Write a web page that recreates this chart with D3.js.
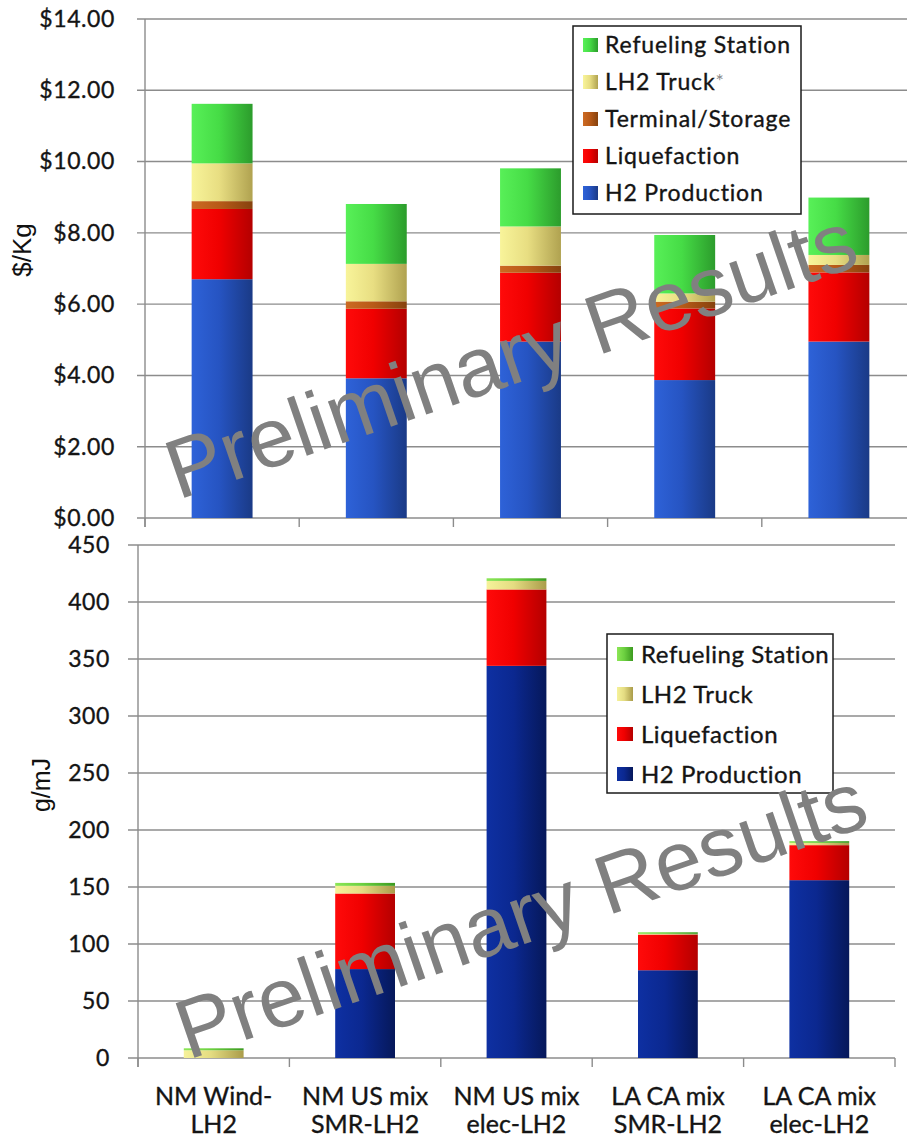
<!DOCTYPE html>
<html>
<head>
<meta charset="utf-8">
<script src="https://cdn.jsdelivr.net/npm/d3@7"></script>
<style>
  body { margin: 0; background: #fff; }
  svg { display: block; }
</style>
</head>
<body>
<svg id="chart" width="907" height="1139"></svg>
<script>
// Pathway labels (two lines each)
const categories = [
  ["NM Wind-", "LH2"],
  ["NM US mix", "SMR-LH2"],
  ["NM US mix", "elec-LH2"],
  ["LA CA mix", "SMR-LH2"],
  ["LA CA mix", "elec-LH2"]
];

// Delivered hydrogen cost by stage, $/Kg
const costSeries = ["H2 Production", "Liquefaction", "Terminal/Storage", "LH2 Truck", "Refueling Station"];
const costH2Production = [6.70, 3.92, 4.95, 3.87, 4.95];
const costLiquefaction = [1.97, 1.95, 1.93, 2.01, 1.94];
const costTerminal     = [0.22, 0.21, 0.20, 0.19, 0.21];
const costTruck        = [1.06, 1.05, 1.10, 0.23, 0.28];
const costRefueling    = [1.67, 1.68, 1.63, 1.64, 1.61];
const costTicks = [0, 2, 4, 6, 8, 10, 12, 14];

// Greenhouse gas emissions by stage, g/mJ
const ghgSeries = ["H2 Production", "Liquefaction", "LH2 Truck", "Refueling Station"];
const ghgH2Production = [0, 78, 344, 77, 156];
const ghgLiquefaction = [0, 66.3, 67, 31.3, 30.7];
const ghgTruck        = [6.8, 6.7, 7.5, 0.6, 2.0];
const ghgRefueling    = [1.7, 2.6, 2.3, 1.4, 1.5];
const ghgTicks = [0, 50, 100, 150, 200, 250, 300, 350, 400, 450];

const svg = d3.select("#chart");
const defs = svg.append("defs");

// Horizontal shading for the bar fills: light on the left, darker on the right
function shade(id, light, mid, dark) {
  const g = defs.append("linearGradient").attr("id", id)
    .attr("x1", 0).attr("x2", 1).attr("y1", 0).attr("y2", 0);
  g.append("stop").attr("offset", "0%").attr("stop-color", light);
  g.append("stop").attr("offset", "45%").attr("stop-color", mid);
  g.append("stop").attr("offset", "100%").attr("stop-color", dark);
  return `url(#${id})`;
}

const costFill = {
  "H2 Production":     shade("c-h2",   "#2e62d8", "#2654c2", "#1a3a86"),
  "Liquefaction":      shade("c-liq",  "#ff0a0a", "#f00000", "#b40000"),
  "Terminal/Storage":  shade("c-term", "#cc6a22", "#b85a18", "#86420e"),
  "LH2 Truck":         shade("c-trk",  "#f8f49a", "#e8de82", "#b0a250"),
  "Refueling Station": shade("c-ref",  "#58f058", "#46dc46", "#2c9c2c")
};
const ghgFill = {
  "H2 Production":     shade("g-h2",   "#0e30a2", "#0b2890", "#06185a"),
  "Liquefaction":      shade("g-liq",  "#ff0a0a", "#f00000", "#b40000"),
  "LH2 Truck":         shade("g-trk",  "#f6f29a", "#e4dc82", "#aa9c4a"),
  "Refueling Station": shade("g-ref",  "#8ce656", "#6cd040", "#3c9a20")
};

const labelFont = "Lato, 'Open Sans', sans-serif";
const titleFont = "'Liberation Sans', Arial, sans-serif";
const gridColor = "#8c8c8c";
const inkColor = "#141414";

// slightly heavier rendering of label text
function ink(sel) {
  return sel.attr("fill", inkColor).attr("stroke", inkColor).attr("stroke-width", 0.35);
}

function drawPanel(o) {
  const g = svg.append("g");
  const n = categories.length;
  const x = d3.scaleBand().domain(d3.range(n)).range([o.left, o.right]).padding(0);
  const y = d3.scaleLinear().domain([0, o.max]).range([o.bottom, o.top]);
  const barW = x.bandwidth() * 0.395;

  // horizontal gridlines (they start at the tick marks)
  g.append("g").selectAll("line").data(o.ticks).join("line")
    .attr("x1", o.left - o.tickLen).attr("x2", o.right)
    .attr("y1", d => y(d)).attr("y2", d => y(d))
    .attr("stroke", gridColor).attr("stroke-width", 1.4);

  // value axis labels
  const ax = g.append("g").attr("transform", `translate(${o.left},0)`)
    .call(d3.axisLeft(y).tickValues(o.ticks).tickFormat(o.fmt)
      .tickSize(0).tickPadding(o.tickLen + o.pad));
  ax.select(".domain").remove();
  ink(ax.selectAll("text")
    .attr("font-family", labelFont).attr("font-size", o.tickFont)
    .attr("letter-spacing", o.tickSpacing));

  // vertical axis line and category tick marks
  g.append("line")
    .attr("x1", o.left).attr("x2", o.left)
    .attr("y1", y(o.max)).attr("y2", o.bottom + o.catTick)
    .attr("stroke", gridColor).attr("stroke-width", 1.4);
  g.append("g").selectAll("line").data(d3.range(n + 1)).join("line")
    .attr("x1", i => o.left + i * x.step()).attr("x2", i => o.left + i * x.step())
    .attr("y1", o.bottom).attr("y2", o.bottom + o.catTick)
    .attr("stroke", gridColor).attr("stroke-width", 1.4);

  // stacked bars
  const rows = d3.range(n).map(i => {
    const r = {};
    o.series.forEach((s, k) => { r[s] = o.values[k][i]; });
    return r;
  });
  const stacked = d3.stack().keys(o.series)(rows);
  g.append("g").selectAll("g").data(stacked).join("g")
    .attr("fill", d => o.fill[d.key])
    .selectAll("rect").data(d => d).join("rect")
    .attr("x", (d, i) => x(i) + (x.bandwidth() - barW) / 2)
    .attr("width", barW)
    .attr("y", d => y(d[1]))
    .attr("height", d => Math.max(0, y(d[0]) - y(d[1])));

  // legend, drawn top-down in reverse stacking order
  const lg = g.append("g");
  lg.append("rect")
    .attr("x", o.legend.x).attr("y", o.legend.y)
    .attr("width", o.legend.w).attr("height", o.legend.h)
    .attr("fill", "#fff").attr("stroke", "#1a1a1a").attr("stroke-width", 1.5);
  const items = o.series.slice().reverse();
  const it = lg.selectAll("g.item").data(items).join("g").attr("class", "item")
    .attr("transform", (d, i) => `translate(${o.legend.x},${o.legend.y0 + i * o.legend.step})`);
  it.append("rect")
    .attr("x", o.legend.sx).attr("y", -7)
    .attr("width", o.legend.sw).attr("height", 14)
    .attr("fill", d => o.fill[d]);
  const lt = ink(it.append("text")
    .attr("x", o.legend.tx).attr("y", 0).attr("dy", "0.36em")
    .attr("font-family", labelFont).attr("font-size", o.legend.font)
    .attr("letter-spacing", o.legend.spacing));
  lt.append("tspan").text(d => d);
  lt.filter(d => d === "LH2 Truck" && o.truckNote)
    .append("tspan").text("*")
    .attr("fill", "#8a8a8a").attr("stroke", "none")
    .attr("font-size", o.legend.font * 0.85).attr("dy", "-0.1em");

  // axis title
  g.append("text")
    .attr("transform", `translate(${o.title.x},${o.title.y}) rotate(-90)`)
    .attr("text-anchor", "middle")
    .attr("font-family", titleFont).attr("font-size", o.title.size)
    .attr("fill", "#111").text(o.title.text);

  // watermark
  g.append("text")
    .attr("transform", `translate(${o.mark.x},${o.mark.y}) rotate(-19)`)
    .attr("font-family", titleFont).attr("font-size", 84)
    .attr("fill", "#808080").text("Preliminary Results");

  return x;
}

drawPanel({
  left: 145, right: 916, top: 19, bottom: 518, max: 14,
  ticks: costTicks, fmt: d3.format("$.2f"), tickLen: 8, pad: 22, tickFont: 23, tickSpacing: 0.6, catTick: 9,
  series: costSeries,
  values: [costH2Production, costLiquefaction, costTerminal, costTruck, costRefueling],
  fill: costFill, truckNote: true,
  legend: { x: 573, y: 26, w: 228, h: 188, y0: 45, step: 37, sx: 10, sw: 15, tx: 32, font: 23, spacing: 0.85 },
  title: { x: 31, y: 250, size: 26, text: "$/Kg" },
  mark: { x: 178, y: 500 }
});

const xb = drawPanel({
  left: 138, right: 895, top: 545, bottom: 1058, max: 450,
  ticks: ghgTicks, fmt: d3.format("d"), tickLen: 10, pad: 18, tickFont: 23, tickSpacing: 0.6, catTick: 9,
  series: ghgSeries,
  values: [ghgH2Production, ghgLiquefaction, ghgTruck, ghgRefueling],
  fill: ghgFill, truckNote: false,
  legend: { x: 607, y: 634, w: 226, h: 159, y0: 654, step: 40, sx: 10, sw: 16, tx: 34, font: 24, spacing: 0.55 },
  title: { x: 50, y: 785, size: 25, text: "g/mJ" },
  mark: { x: 188, y: 1060 }
});

// category labels under the lower panel
ink(svg.append("g").selectAll("text").data(categories).join("text")
  .attr("x", (d, i) => xb(i) + xb.bandwidth() / 2)
  .attr("y", 1105)
  .attr("text-anchor", "middle")
  .attr("font-family", labelFont).attr("font-size", 25))
  .selectAll("tspan").data(d => d).join("tspan")
  .attr("x", function () { return d3.select(this.parentNode).attr("x"); })
  .attr("dy", (d, i) => i === 0 ? 0 : 28)
  .text(d => d);
</script>
</body>
</html>
